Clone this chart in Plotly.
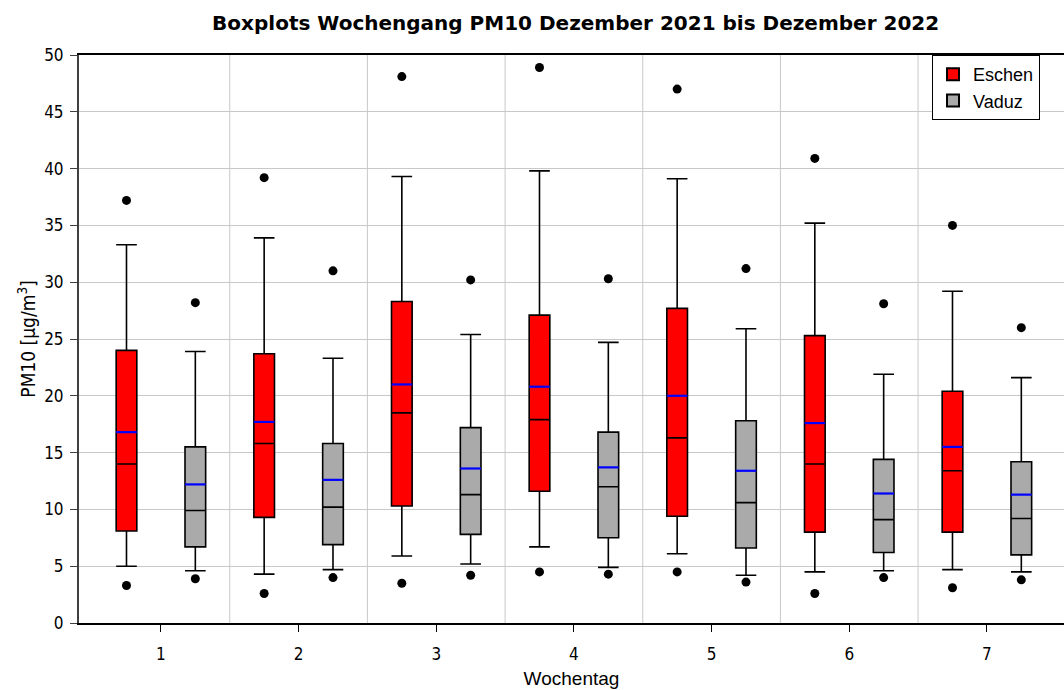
import plotly.graph_objects as go

days = [1, 2, 3, 4, 5, 6, 7]

# Eschen
e_max = [37.2, 39.2, 48.1, 48.9, 47.0, 40.9, 35.0]
e_upper = [33.3, 33.9, 39.3, 39.8, 39.1, 35.2, 29.2]
e_q3 = [24.0, 23.7, 28.3, 27.1, 27.7, 25.3, 20.4]
e_mean = [16.8, 17.7, 21.0, 20.8, 20.0, 17.6, 15.5]
e_median = [14.0, 15.8, 18.5, 17.9, 16.3, 14.0, 13.4]
e_q1 = [8.1, 9.3, 10.3, 11.6, 9.4, 8.0, 8.0]
e_lower = [5.0, 4.3, 5.9, 6.7, 6.1, 4.5, 4.7]
e_min = [3.3, 2.6, 3.5, 4.5, 4.5, 2.6, 3.1]

# Vaduz
v_max = [28.2, 31.0, 30.2, 30.3, 31.2, 28.1, 26.0]
v_upper = [23.9, 23.3, 25.4, 24.7, 25.9, 21.9, 21.6]
v_q3 = [15.5, 15.8, 17.2, 16.8, 17.8, 14.4, 14.2]
v_mean = [12.2, 12.6, 13.6, 13.7, 13.4, 11.4, 11.3]
v_median = [9.9, 10.2, 11.3, 12.0, 10.6, 9.1, 9.2]
v_q1 = [6.7, 6.9, 7.8, 7.5, 6.6, 6.2, 6.0]
v_lower = [4.6, 4.7, 5.2, 4.9, 4.2, 4.6, 4.5]
v_min = [3.9, 4.0, 4.2, 4.3, 3.6, 4.0, 3.8]

separators = [1.5, 2.5, 3.5, 4.5, 5.5, 6.5]

OFFSET = 0.25
BW = 0.15
TICKFONT = "DejaVu Sans Condensed, DejaVu Sans"

fig = go.Figure()

series = [
    ("Eschen", -OFFSET, "#FF0000", e_q1, e_median, e_q3, e_lower, e_upper, e_mean, e_min, e_max),
    ("Vaduz", OFFSET, "#AAAAAA", v_q1, v_median, v_q3, v_lower, v_upper, v_mean, v_min, v_max),
]

for name, off, color, q1, med, q3, lo, up, mean, mn, mx in series:
    xs = [d + off for d in days]
    fig.add_trace(go.Box(
        name=name, x=xs, q1=q1, median=med, q3=q3,
        lowerfence=lo, upperfence=up,
        fillcolor=color, line=dict(color="#000000", width=1.6),
        whiskerwidth=1, width=BW, boxpoints=False,
        showlegend=True,
    ))

for name, off, color, q1, med, q3, lo, up, mean, mn, mx in series:
    lx, ly = [], []
    for d, m in zip(days, mean):
        lx += [d + off - BW / 2, d + off + BW / 2, None]
        ly += [m, m, None]
    fig.add_trace(go.Scatter(x=lx, y=ly, mode="lines",
                             line=dict(color="#0000FF", width=2.2),
                             showlegend=False, hoverinfo="skip"))
    px = [d + off for d in days] * 2
    py = list(mn) + list(mx)
    fig.add_trace(go.Scatter(x=px, y=py, mode="markers",
                             marker=dict(color="#000000", size=9),
                             showlegend=False, hoverinfo="skip"))

for s in separators:
    fig.add_shape(type="line", xref="x", yref="paper", x0=s, x1=s, y0=0, y1=1,
                  line=dict(color="#C8C8C8", width=1), layer="below")

fig.update_layout(
    width=1064, height=690,
    margin=dict(l=79, r=0, t=55, b=67),
    paper_bgcolor="white", plot_bgcolor="white",
    title=dict(text="<b>Boxplots Wochengang PM10 Dezember 2021 bis Dezember 2022</b>",
               x=0.541, xanchor="center", y=0.967, yanchor="middle",
               font=dict(family="DejaVu Sans", size=20, color="#000000")),
    xaxis=dict(range=[0.405, 7.56], tickvals=days, ticktext=[str(d) for d in days],
               showgrid=False, zeroline=False,
               showline=True, linecolor="#000000", linewidth=2, mirror=True,
               ticks="outside", ticklen=7, tickcolor="#000000", ticklabelstandoff=8,
               tickfont=dict(family=TICKFONT, size=17, color="#000000"),
               title=dict(text="Wochentag", standoff=8,
                          font=dict(family="Liberation Sans", size=19, color="#000000"))),
    yaxis=dict(range=[0, 50], dtick=5, showgrid=True, gridcolor="#C8C8C8", gridwidth=1,
               zeroline=False, showline=True, linecolor="#404040", linewidth=2,
               ticks="outside", ticklen=7, tickcolor="#404040", ticklabelstandoff=3,
               tickfont=dict(family=TICKFONT, size=17, color="#000000"),
               title=dict(text="PM10 [µg/m<sup>3</sup>]", standoff=3,
                          font=dict(family=TICKFONT, size=19, color="#000000"))),
    legend=dict(x=0.866, y=1.0, xanchor="left", yanchor="top",
                bordercolor="#000000", borderwidth=1, bgcolor="white",
                font=dict(family="Liberation Sans", size=18, color="#000000"),
                itemsizing="constant", tracegroupgap=2),
    boxmode="overlay",
)

fig.write_html("out.html")
